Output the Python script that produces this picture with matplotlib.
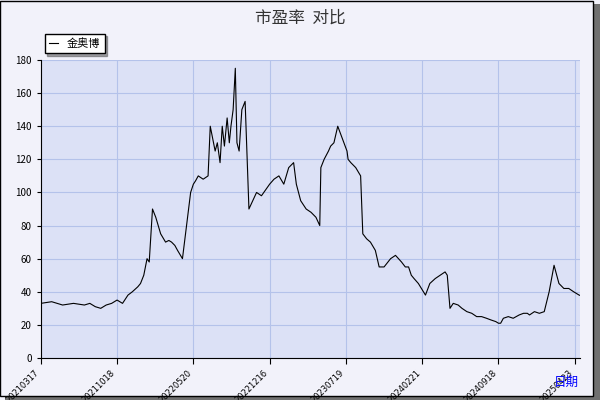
import matplotlib.pyplot as plt
from matplotlib.patches import Rectangle

plt.rcParams['font.family'] = ['Noto Sans CJK SC', 'DejaVu Sans']

# trading-day offsets (approx.) and P/E values
days = [0, 20, 40, 60, 80, 90, 100, 110, 120, 130, 140,
        150, 160, 168, 178, 183, 189, 192, 195, 199, 205, 211, 220, 229, 235, 240, 246, 251, 260, 275, 280,
        284, 289, 298, 307, 311, 320, 324, 329, 333, 337, 342, 346, 349, 353, 357, 360, 364, 369, 375, 382, 389, 396, 405, 420, 428,
        437, 446, 455, 464, 469, 473, 477, 487, 496, 505, 512, 514, 520, 528, 532, 538, 545, 553, 562, 564,
        569, 578, 587, 591, 598, 605, 614, 621, 630, 642, 651, 662, 669, 675, 680, 685, 693, 706, 714,
        724, 733, 742, 746, 751, 757, 766, 773, 782, 791, 800, 809, 818, 826, 835, 840, 844,
        849, 858, 867, 878, 886, 893, 897, 906, 915, 924, 933, 942, 951, 960, 969, 978, 988, 997, 1006, 1017, 1024, 1033,
        1037, 1039, 1042, 1052, 1061, 1070, 1079, 1088, 1097, 1106, 1115, 1128, 1135, 1141, 1159]
pe = [33, 34, 32, 33, 32, 33, 31, 30, 32, 33, 35,
      33, 38, 40, 43, 45, 50, 55, 60, 58, 90, 85, 75, 70, 71, 70, 68, 65, 60, 100, 105,
      107, 110, 108, 110, 140, 125, 130, 118, 140, 128, 145, 130, 140, 150, 175, 130, 125, 150, 155, 90, 95, 100, 98, 105, 108,
      110, 105, 115, 118, 105, 100, 95, 90, 88, 85, 80, 115, 120, 125, 128, 130, 140, 133, 125, 120,
      118, 115, 110, 75, 72, 70, 65, 55, 55, 60, 62, 58, 55, 55, 50, 48, 45, 38, 45,
      48, 50, 52, 50, 30, 33, 32, 30, 28, 27, 25, 25, 24, 23, 22, 21, 21,
      24, 25, 24, 26, 27, 27, 26, 28, 27, 28, 40, 56, 45, 42, 42, 40, 38, 37, 32, 36, 33, 33,
      33, 33, 33, 33, 33, 33, 33, 33, 33, 33, 33, 33, 33, 33, 33]
# trim to the visible range
pe = pe[:len(days)]
tick_days = [0, 140, 280, 420, 560, 700, 840, 980]
tick_labels = ['20210317', '20211018', '20220520', '20221216',
               '20230719', '20240221', '20240918', '20250423']
series_name = '金奥博'

fig = plt.figure(figsize=(6, 4), dpi=100, facecolor='#f2f2fa')
fig.patches.append(Rectangle((0.008, 0.0), 0.992, 0.99, transform=fig.transFigure,
                             facecolor='#707070', edgecolor='none', zorder=-2))
fig.patches.append(Rectangle((0.0, 0.01), 0.988, 0.988, transform=fig.transFigure,
                             facecolor='#f2f2fa', edgecolor='black', lw=1, zorder=-1))
ax = fig.add_axes([0.068, 0.105, 0.899, 0.745])
ax.set_facecolor('#dce1f6')
line, = ax.plot(days, pe, color='black', lw=0.8)
ax.set_xlim(0, 990)
ax.set_ylim(0, 180)
ax.set_yticks(range(0, 181, 20))
ax.set_xticks(tick_days)
ax.set_xticklabels(tick_labels, rotation=45, ha='right', fontsize=6, family='DejaVu Sans')
ax.tick_params(axis='y', labelsize=7, length=3)
ax.tick_params(axis='x', length=4)
ax.grid(color='#b4c2ea', lw=0.8)
for s in ['top', 'right']:
    ax.spines[s].set_visible(False)
ax.spines['left'].set_linewidth(0.8)
ax.spines['bottom'].set_linewidth(0.8)
fig.text(0.5, 0.955, '市盈率  对比', ha='center', va='center', fontsize=12, color='#333333')
fig.text(0.965, 0.045, '日期', ha='right', va='center', fontsize=9, color='blue')
leg = fig.legend([line], [series_name], loc='upper left', bbox_to_anchor=(0.065, 0.93),
                 fontsize=8, fancybox=False, shadow=True, handlelength=0.8, borderpad=0.4)
leg.get_frame().set_edgecolor('black')
leg.get_frame().set_linewidth(1.0)
leg.legendHandles = None
fig.savefig('out.png', dpi=100, facecolor=fig.get_facecolor())
